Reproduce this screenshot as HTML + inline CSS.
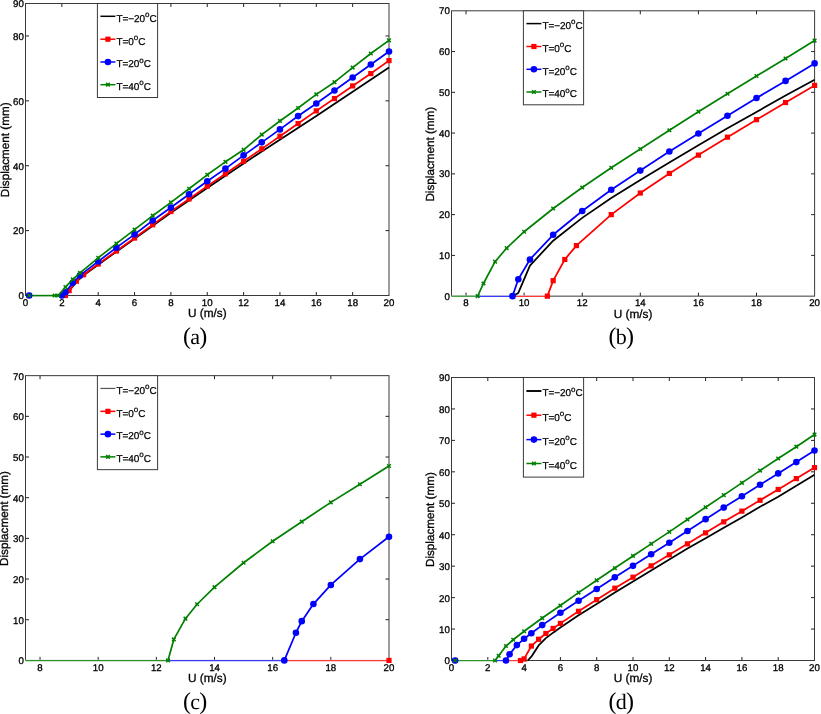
<!DOCTYPE html>
<html><head><meta charset="utf-8"><title>Displacement vs U</title>
<style>
html,body{margin:0;padding:0;background:#fff;}
body{width:821px;height:714px;overflow:hidden;}
svg{display:block;will-change:transform;text-rendering:geometricPrecision;font-family:"Liberation Sans",sans-serif;}
</style></head><body>
<svg width="821" height="714" viewBox="0 0 821 714">
<rect width="821" height="714" fill="#fff"/>
<g id="plot-a">
<rect x="25.5" y="3.5" width="363.5" height="292" fill="#fff" stroke="#3a3a3a" stroke-width="1"/>
<path d="M61.85 295.5v-3.5M61.85 3.5v3.5M98.2 295.5v-3.5M98.2 3.5v3.5M134.55 295.5v-3.5M134.55 3.5v3.5M170.9 295.5v-3.5M170.9 3.5v3.5M207.25 295.5v-3.5M207.25 3.5v3.5M243.6 295.5v-3.5M243.6 3.5v3.5M279.95 295.5v-3.5M279.95 3.5v3.5M316.3 295.5v-3.5M316.3 3.5v3.5M352.65 295.5v-3.5M352.65 3.5v3.5M25.5 230.61h3.5M389 230.61h-3.5M25.5 165.72h3.5M389 165.72h-3.5M25.5 100.83h3.5M389 100.83h-3.5M25.5 35.94h3.5M389 35.94h-3.5" stroke="#222" stroke-width="1" fill="none"/>
<g font-size="9.7" fill="#000" stroke="#000" stroke-width="0.3">
<text x="25.5" y="306.1" text-anchor="middle">0</text>
<text x="61.85" y="306.1" text-anchor="middle">2</text>
<text x="98.2" y="306.1" text-anchor="middle">4</text>
<text x="134.55" y="306.1" text-anchor="middle">6</text>
<text x="170.9" y="306.1" text-anchor="middle">8</text>
<text x="207.25" y="306.1" text-anchor="middle">10</text>
<text x="243.6" y="306.1" text-anchor="middle">12</text>
<text x="279.95" y="306.1" text-anchor="middle">14</text>
<text x="316.3" y="306.1" text-anchor="middle">16</text>
<text x="352.65" y="306.1" text-anchor="middle">18</text>
<text x="389" y="306.1" text-anchor="middle">20</text>
<text x="23.9" y="299.3" text-anchor="end">0</text>
<text x="23.9" y="234.41" text-anchor="end">20</text>
<text x="23.9" y="169.52" text-anchor="end">40</text>
<text x="23.9" y="104.63" text-anchor="end">60</text>
<text x="23.9" y="39.74" text-anchor="end">80</text>
<text x="23.9" y="7.3" text-anchor="end">90</text>
</g>
<text x="207.25" y="317.1" font-size="11.8" stroke="#000" stroke-width="0.3" text-anchor="middle">U (m/s)</text>
<text transform="translate(8.9 149.8) rotate(-90)" font-size="11.7" stroke="#000" stroke-width="0.3" text-anchor="middle">Displacment (mm)</text>
<clipPath id="clip-a"><rect x="25" y="3" width="364.7" height="293"/></clipPath>
<path d="M29.14 295.6H65.49" stroke="#fff" stroke-width="1.7" fill="none"/>
<path d="M29.14 295.6H58.22" stroke="#008000" stroke-width="1.6" fill="none"/>
<path d="M58.22 295.6H61.85" stroke="#0000ff" stroke-width="1.6" fill="none"/>
<path d="M61.85 295.6H65.49" stroke="#ff0000" stroke-width="1.6" fill="none"/>
<path clip-path="url(#clip-a)" d="M65.49 295.5L69.12 290.96L76.39 281.87L83.66 275.38L98.2 264.68L116.38 251.7L134.55 238.88L170.9 212.77L207.25 187.95L261.77 151.45L316.3 116.08L389 67.58" stroke="#000000" stroke-width="1.75" fill="none" stroke-linejoin="round"/>
<path clip-path="url(#clip-a)" d="M65.49 295.5L69.12 290.63L76.39 281.22L83.66 274.74L98.2 264.03L116.38 251.05L134.55 238.07L152.73 224.77L170.9 211.47L189.08 198.98L207.25 186.16L225.43 173.83L243.6 161.18L261.77 148.85L279.95 136.2L298.12 123.54L316.3 110.89L334.48 98.56L352.65 85.91L370.82 73.58L389 60.6" stroke="#ff0000" stroke-width="1.75" fill="none" stroke-linejoin="round"/>
<rect x="26.54" y="292.9" width="5.2" height="5.2" fill="#ff0000"/>
<rect x="62.89" y="292.9" width="5.2" height="5.2" fill="#ff0000"/>
<rect x="66.52" y="288.03" width="5.2" height="5.2" fill="#ff0000"/>
<rect x="73.79" y="278.62" width="5.2" height="5.2" fill="#ff0000"/>
<rect x="81.06" y="272.14" width="5.2" height="5.2" fill="#ff0000"/>
<rect x="95.6" y="261.43" width="5.2" height="5.2" fill="#ff0000"/>
<rect x="113.78" y="248.45" width="5.2" height="5.2" fill="#ff0000"/>
<rect x="131.95" y="235.47" width="5.2" height="5.2" fill="#ff0000"/>
<rect x="150.13" y="222.17" width="5.2" height="5.2" fill="#ff0000"/>
<rect x="168.3" y="208.87" width="5.2" height="5.2" fill="#ff0000"/>
<rect x="186.48" y="196.38" width="5.2" height="5.2" fill="#ff0000"/>
<rect x="204.65" y="183.56" width="5.2" height="5.2" fill="#ff0000"/>
<rect x="222.83" y="171.23" width="5.2" height="5.2" fill="#ff0000"/>
<rect x="241" y="158.58" width="5.2" height="5.2" fill="#ff0000"/>
<rect x="259.17" y="146.25" width="5.2" height="5.2" fill="#ff0000"/>
<rect x="277.35" y="133.6" width="5.2" height="5.2" fill="#ff0000"/>
<rect x="295.52" y="120.94" width="5.2" height="5.2" fill="#ff0000"/>
<rect x="313.7" y="108.29" width="5.2" height="5.2" fill="#ff0000"/>
<rect x="331.88" y="95.96" width="5.2" height="5.2" fill="#ff0000"/>
<rect x="350.05" y="83.31" width="5.2" height="5.2" fill="#ff0000"/>
<rect x="368.22" y="70.98" width="5.2" height="5.2" fill="#ff0000"/>
<rect x="386.4" y="58" width="5.2" height="5.2" fill="#ff0000"/>
<path clip-path="url(#clip-a)" d="M61.85 295.5L65.49 292.26L72.75 282.85L80.03 275.38L98.2 261.43L116.38 247.64L134.55 234.34L152.73 220.55L170.9 207.58L189.08 194.27L207.25 181.3L225.43 168.64L243.6 155.34L261.77 142.36L279.95 129.38L298.12 116.08L316.3 103.43L334.48 90.45L352.65 77.47L370.82 64.5L389 51.52" stroke="#0000ff" stroke-width="1.75" fill="none" stroke-linejoin="round"/>
<circle cx="29.14" cy="295.5" r="3.3" fill="#0000ff"/>
<circle cx="61.85" cy="295.5" r="3.3" fill="#0000ff"/>
<circle cx="65.49" cy="292.26" r="3.3" fill="#0000ff"/>
<circle cx="72.75" cy="282.85" r="3.3" fill="#0000ff"/>
<circle cx="80.03" cy="275.38" r="3.3" fill="#0000ff"/>
<circle cx="98.2" cy="261.43" r="3.3" fill="#0000ff"/>
<circle cx="116.38" cy="247.64" r="3.3" fill="#0000ff"/>
<circle cx="134.55" cy="234.34" r="3.3" fill="#0000ff"/>
<circle cx="152.73" cy="220.55" r="3.3" fill="#0000ff"/>
<circle cx="170.9" cy="207.58" r="3.3" fill="#0000ff"/>
<circle cx="189.08" cy="194.27" r="3.3" fill="#0000ff"/>
<circle cx="207.25" cy="181.3" r="3.3" fill="#0000ff"/>
<circle cx="225.43" cy="168.64" r="3.3" fill="#0000ff"/>
<circle cx="243.6" cy="155.34" r="3.3" fill="#0000ff"/>
<circle cx="261.77" cy="142.36" r="3.3" fill="#0000ff"/>
<circle cx="279.95" cy="129.38" r="3.3" fill="#0000ff"/>
<circle cx="298.12" cy="116.08" r="3.3" fill="#0000ff"/>
<circle cx="316.3" cy="103.43" r="3.3" fill="#0000ff"/>
<circle cx="334.48" cy="90.45" r="3.3" fill="#0000ff"/>
<circle cx="352.65" cy="77.47" r="3.3" fill="#0000ff"/>
<circle cx="370.82" cy="64.5" r="3.3" fill="#0000ff"/>
<circle cx="389" cy="51.52" r="3.3" fill="#0000ff"/>
<path clip-path="url(#clip-a)" d="M58.22 295.5L65.49 287.06L72.75 279.28L80.03 272.79L98.2 257.86L116.38 243.59L134.55 229.64L152.73 215.69L170.9 202.38L189.08 188.76L207.25 174.81L225.43 161.83L243.6 149.82L261.77 134.58L279.95 120.95L298.12 107.97L316.3 94.34L334.48 82.18L352.65 67.58L370.82 53.46L389 40.32" stroke="#008000" stroke-width="1.7" fill="none" stroke-linejoin="round"/>
<path d="M27.34 293.7L30.94 297.3M27.34 297.3L30.94 293.7" stroke="#008000" stroke-width="1.5" fill="none"/>
<path d="M52.78 293.7L56.38 297.3M52.78 297.3L56.38 293.7" stroke="#008000" stroke-width="1.5" fill="none"/>
<path d="M56.42 293.7L60.02 297.3M56.42 297.3L60.02 293.7" stroke="#008000" stroke-width="1.5" fill="none"/>
<path d="M63.69 285.26L67.29 288.86M63.69 288.86L67.29 285.26" stroke="#008000" stroke-width="1.5" fill="none"/>
<path d="M70.95 277.48L74.55 281.08M70.95 281.08L74.55 277.48" stroke="#008000" stroke-width="1.5" fill="none"/>
<path d="M78.23 270.99L81.83 274.59M78.23 274.59L81.83 270.99" stroke="#008000" stroke-width="1.5" fill="none"/>
<path d="M96.4 256.06L100 259.66M96.4 259.66L100 256.06" stroke="#008000" stroke-width="1.5" fill="none"/>
<path d="M114.58 241.79L118.17 245.39M114.58 245.39L118.17 241.79" stroke="#008000" stroke-width="1.5" fill="none"/>
<path d="M132.75 227.84L136.35 231.44M132.75 231.44L136.35 227.84" stroke="#008000" stroke-width="1.5" fill="none"/>
<path d="M150.93 213.89L154.53 217.49M150.93 217.49L154.53 213.89" stroke="#008000" stroke-width="1.5" fill="none"/>
<path d="M169.1 200.58L172.7 204.18M169.1 204.18L172.7 200.58" stroke="#008000" stroke-width="1.5" fill="none"/>
<path d="M187.28 186.96L190.88 190.56M187.28 190.56L190.88 186.96" stroke="#008000" stroke-width="1.5" fill="none"/>
<path d="M205.45 173.01L209.05 176.61M205.45 176.61L209.05 173.01" stroke="#008000" stroke-width="1.5" fill="none"/>
<path d="M223.62 160.03L227.23 163.63M223.62 163.63L227.23 160.03" stroke="#008000" stroke-width="1.5" fill="none"/>
<path d="M241.8 148.02L245.4 151.62M241.8 151.62L245.4 148.02" stroke="#008000" stroke-width="1.5" fill="none"/>
<path d="M259.97 132.78L263.57 136.38M259.97 136.38L263.57 132.78" stroke="#008000" stroke-width="1.5" fill="none"/>
<path d="M278.15 119.15L281.75 122.75M278.15 122.75L281.75 119.15" stroke="#008000" stroke-width="1.5" fill="none"/>
<path d="M296.32 106.17L299.93 109.77M296.32 109.77L299.93 106.17" stroke="#008000" stroke-width="1.5" fill="none"/>
<path d="M314.5 92.54L318.1 96.14M314.5 96.14L318.1 92.54" stroke="#008000" stroke-width="1.5" fill="none"/>
<path d="M332.68 80.38L336.28 83.98M332.68 83.98L336.28 80.38" stroke="#008000" stroke-width="1.5" fill="none"/>
<path d="M350.85 65.78L354.45 69.38M350.85 69.38L354.45 65.78" stroke="#008000" stroke-width="1.5" fill="none"/>
<path d="M369.02 51.66L372.62 55.26M369.02 55.26L372.62 51.66" stroke="#008000" stroke-width="1.5" fill="none"/>
<path d="M387.2 38.52L390.8 42.12M387.2 42.12L390.8 38.52" stroke="#008000" stroke-width="1.5" fill="none"/>
<rect x="97.4" y="3.5" width="60.2" height="94" fill="#fff" stroke="#3a3a3a" stroke-width="1"/>
<path d="M100.4 16.3h15" stroke="#000000" stroke-width="1.5"/>
<text x="116.6" y="21.6" font-size="10" letter-spacing="-0.1" stroke="#000" stroke-width="0.25">T=−20<tspan font-size="8" dy="-4.8">o</tspan><tspan dy="4.8">C</tspan></text>
<path d="M100.4 39.2h15" stroke="#ff0000" stroke-width="1.5"/>
<rect x="105.3" y="36.6" width="5.2" height="5.2" fill="#ff0000"/>
<text x="116.6" y="44.5" font-size="10" letter-spacing="-0.1" stroke="#000" stroke-width="0.25">T=0<tspan font-size="8" dy="-4.8">o</tspan><tspan dy="4.8">C</tspan></text>
<path d="M100.4 62h15" stroke="#0000ff" stroke-width="1.5"/>
<circle cx="107.9" cy="62" r="3.3" fill="#0000ff"/>
<text x="116.6" y="67.3" font-size="10" letter-spacing="-0.1" stroke="#000" stroke-width="0.25">T=20<tspan font-size="8" dy="-4.8">o</tspan><tspan dy="4.8">C</tspan></text>
<path d="M100.4 84.7h15" stroke="#008000" stroke-width="1.5"/>
<path d="M106.1 82.9L109.7 86.5M106.1 86.5L109.7 82.9" stroke="#008000" stroke-width="1.5" fill="none"/>
<text x="116.6" y="90" font-size="10" letter-spacing="-0.1" stroke="#000" stroke-width="0.25">T=40<tspan font-size="8" dy="-4.8">o</tspan><tspan dy="4.8">C</tspan></text>
<text x="194.8" y="344" font-family="'Liberation Serif', serif" font-size="22" letter-spacing="-0.7" text-anchor="middle"><tspan font-size="24">(</tspan>a<tspan font-size="24">)</tspan></text>
</g>
<g id="plot-b">
<rect x="451.5" y="10.8" width="363.1" height="285.35" fill="#fff" stroke="#3a3a3a" stroke-width="1"/>
<path d="M466.02 296.15v-3.5M466.02 10.8v3.5M524.12 296.15v-3.5M524.12 10.8v3.5M582.22 296.15v-3.5M582.22 10.8v3.5M640.31 296.15v-3.5M640.31 10.8v3.5M698.41 296.15v-3.5M698.41 10.8v3.5M756.5 296.15v-3.5M756.5 10.8v3.5M451.5 255.39h3.5M814.6 255.39h-3.5M451.5 214.62h3.5M814.6 214.62h-3.5M451.5 173.86h3.5M814.6 173.86h-3.5M451.5 133.09h3.5M814.6 133.09h-3.5M451.5 92.33h3.5M814.6 92.33h-3.5M451.5 51.56h3.5M814.6 51.56h-3.5" stroke="#222" stroke-width="1" fill="none"/>
<g font-size="9.7" fill="#000" stroke="#000" stroke-width="0.3">
<text x="466.02" y="305.95" text-anchor="middle">8</text>
<text x="524.12" y="305.95" text-anchor="middle">10</text>
<text x="582.22" y="305.95" text-anchor="middle">12</text>
<text x="640.31" y="305.95" text-anchor="middle">14</text>
<text x="698.41" y="305.95" text-anchor="middle">16</text>
<text x="756.5" y="305.95" text-anchor="middle">18</text>
<text x="814.6" y="305.95" text-anchor="middle">20</text>
<text x="449.9" y="299.75" text-anchor="end">0</text>
<text x="449.9" y="258.99" text-anchor="end">10</text>
<text x="449.9" y="218.22" text-anchor="end">20</text>
<text x="449.9" y="177.46" text-anchor="end">30</text>
<text x="449.9" y="136.69" text-anchor="end">40</text>
<text x="449.9" y="95.93" text-anchor="end">50</text>
<text x="449.9" y="55.16" text-anchor="end">60</text>
<text x="449.9" y="14.4" text-anchor="end">70</text>
</g>
<text x="633.05" y="317.75" font-size="11.8" stroke="#000" stroke-width="0.3" text-anchor="middle">U (m/s)</text>
<text transform="translate(434.1 154.17) rotate(-90)" font-size="11.7" stroke="#000" stroke-width="0.3" text-anchor="middle">Displacment (mm)</text>
<clipPath id="clip-b"><rect x="451" y="10.3" width="364.3" height="286.35"/></clipPath>
<path d="M451.5 296.25H547.36" stroke="#fff" stroke-width="1.7" fill="none"/>
<path d="M451.5 296.25H477.64" stroke="#2a962a" stroke-width="1.25" fill="none"/>
<path d="M477.64 296.25H512.5" stroke="#3a3aff" stroke-width="1.25" fill="none"/>
<path d="M512.5 296.25H547.36" stroke="#ff3a3a" stroke-width="1.25" fill="none"/>
<path clip-path="url(#clip-b)" d="M512.5 296.15L518.31 292.89L529.93 265.58L553.17 240.71L582.22 217.88L611.26 197.91L640.31 179.97L669.36 162.44L698.41 145.32L727.46 128.2L756.5 111.9L785.55 95.59L814.6 79.69" stroke="#000000" stroke-width="1.75" fill="none" stroke-linejoin="round"/>
<path clip-path="url(#clip-b)" d="M547.36 296.15L553.17 280.66L564.79 259.46L576.41 245.6L611.26 214.62L640.31 193.02L669.36 173.45L698.41 155.11L727.46 137.17L756.5 119.64L785.55 102.52L814.6 85.4" stroke="#ff0000" stroke-width="1.75" fill="none" stroke-linejoin="round"/>
<rect x="544.76" y="293.55" width="5.2" height="5.2" fill="#ff0000"/>
<rect x="550.57" y="278.06" width="5.2" height="5.2" fill="#ff0000"/>
<rect x="562.19" y="256.86" width="5.2" height="5.2" fill="#ff0000"/>
<rect x="573.81" y="243" width="5.2" height="5.2" fill="#ff0000"/>
<rect x="608.66" y="212.02" width="5.2" height="5.2" fill="#ff0000"/>
<rect x="637.71" y="190.42" width="5.2" height="5.2" fill="#ff0000"/>
<rect x="666.76" y="170.85" width="5.2" height="5.2" fill="#ff0000"/>
<rect x="695.81" y="152.51" width="5.2" height="5.2" fill="#ff0000"/>
<rect x="724.86" y="134.57" width="5.2" height="5.2" fill="#ff0000"/>
<rect x="753.9" y="117.04" width="5.2" height="5.2" fill="#ff0000"/>
<rect x="782.95" y="99.92" width="5.2" height="5.2" fill="#ff0000"/>
<rect x="812" y="82.8" width="5.2" height="5.2" fill="#ff0000"/>
<path clip-path="url(#clip-b)" d="M512.5 296.15L518.31 279.23L529.93 259.46L553.17 234.8L582.22 210.95L611.26 189.76L640.31 170.6L669.36 151.44L698.41 133.5L727.46 115.77L756.5 98.04L785.55 80.91L814.6 63.39" stroke="#0000ff" stroke-width="1.75" fill="none" stroke-linejoin="round"/>
<circle cx="512.5" cy="296.15" r="3.3" fill="#0000ff"/>
<circle cx="518.31" cy="279.23" r="3.3" fill="#0000ff"/>
<circle cx="529.93" cy="259.46" r="3.3" fill="#0000ff"/>
<circle cx="553.17" cy="234.8" r="3.3" fill="#0000ff"/>
<circle cx="582.22" cy="210.95" r="3.3" fill="#0000ff"/>
<circle cx="611.26" cy="189.76" r="3.3" fill="#0000ff"/>
<circle cx="640.31" cy="170.6" r="3.3" fill="#0000ff"/>
<circle cx="669.36" cy="151.44" r="3.3" fill="#0000ff"/>
<circle cx="698.41" cy="133.5" r="3.3" fill="#0000ff"/>
<circle cx="727.46" cy="115.77" r="3.3" fill="#0000ff"/>
<circle cx="756.5" cy="98.04" r="3.3" fill="#0000ff"/>
<circle cx="785.55" cy="80.91" r="3.3" fill="#0000ff"/>
<circle cx="814.6" cy="63.39" r="3.3" fill="#0000ff"/>
<path clip-path="url(#clip-b)" d="M477.64 296.15L483.45 283.51L495.07 261.7L506.69 248.05L524.12 231.74L553.17 208.51L582.22 187.51L611.26 167.74L640.31 148.99L669.36 130.24L698.41 111.69L727.46 93.76L756.5 76.02L785.55 58.49L814.6 40.56" stroke="#008000" stroke-width="1.7" fill="none" stroke-linejoin="round"/>
<path d="M475.84 294.35L479.44 297.95M475.84 297.95L479.44 294.35" stroke="#008000" stroke-width="1.5" fill="none"/>
<path d="M481.65 281.71L485.25 285.31M481.65 285.31L485.25 281.71" stroke="#008000" stroke-width="1.5" fill="none"/>
<path d="M493.27 259.9L496.87 263.5M493.27 263.5L496.87 259.9" stroke="#008000" stroke-width="1.5" fill="none"/>
<path d="M504.89 246.25L508.49 249.85M504.89 249.85L508.49 246.25" stroke="#008000" stroke-width="1.5" fill="none"/>
<path d="M522.32 229.94L525.92 233.54M522.32 233.54L525.92 229.94" stroke="#008000" stroke-width="1.5" fill="none"/>
<path d="M551.37 206.71L554.97 210.31M551.37 210.31L554.97 206.71" stroke="#008000" stroke-width="1.5" fill="none"/>
<path d="M580.42 185.71L584.02 189.31M580.42 189.31L584.02 185.71" stroke="#008000" stroke-width="1.5" fill="none"/>
<path d="M609.46 165.94L613.06 169.54M609.46 169.54L613.06 165.94" stroke="#008000" stroke-width="1.5" fill="none"/>
<path d="M638.51 147.19L642.11 150.79M638.51 150.79L642.11 147.19" stroke="#008000" stroke-width="1.5" fill="none"/>
<path d="M667.56 128.44L671.16 132.04M667.56 132.04L671.16 128.44" stroke="#008000" stroke-width="1.5" fill="none"/>
<path d="M696.61 109.89L700.21 113.49M696.61 113.49L700.21 109.89" stroke="#008000" stroke-width="1.5" fill="none"/>
<path d="M725.66 91.96L729.26 95.56M725.66 95.56L729.26 91.96" stroke="#008000" stroke-width="1.5" fill="none"/>
<path d="M754.7 74.22L758.3 77.82M754.7 77.82L758.3 74.22" stroke="#008000" stroke-width="1.5" fill="none"/>
<path d="M783.75 56.69L787.35 60.29M783.75 60.29L787.35 56.69" stroke="#008000" stroke-width="1.5" fill="none"/>
<path d="M812.8 38.76L816.4 42.36M812.8 42.36L816.4 38.76" stroke="#008000" stroke-width="1.5" fill="none"/>
<rect x="523.4" y="10.8" width="60.2" height="94" fill="#fff" stroke="#3a3a3a" stroke-width="1"/>
<path d="M526.4 23.6h15" stroke="#000000" stroke-width="1.5"/>
<text x="542.6" y="28.9" font-size="10" letter-spacing="-0.1" stroke="#000" stroke-width="0.25">T=−20<tspan font-size="8" dy="-4.8">o</tspan><tspan dy="4.8">C</tspan></text>
<path d="M526.4 46.5h15" stroke="#ff0000" stroke-width="1.5"/>
<rect x="531.3" y="43.9" width="5.2" height="5.2" fill="#ff0000"/>
<text x="542.6" y="51.8" font-size="10" letter-spacing="-0.1" stroke="#000" stroke-width="0.25">T=0<tspan font-size="8" dy="-4.8">o</tspan><tspan dy="4.8">C</tspan></text>
<path d="M526.4 69.3h15" stroke="#0000ff" stroke-width="1.5"/>
<circle cx="533.9" cy="69.3" r="3.3" fill="#0000ff"/>
<text x="542.6" y="74.6" font-size="10" letter-spacing="-0.1" stroke="#000" stroke-width="0.25">T=20<tspan font-size="8" dy="-4.8">o</tspan><tspan dy="4.8">C</tspan></text>
<path d="M526.4 92h15" stroke="#008000" stroke-width="1.5"/>
<path d="M532.1 90.2L535.7 93.8M532.1 93.8L535.7 90.2" stroke="#008000" stroke-width="1.5" fill="none"/>
<text x="542.6" y="97.3" font-size="10" letter-spacing="-0.1" stroke="#000" stroke-width="0.25">T=40<tspan font-size="8" dy="-4.8">o</tspan><tspan dy="4.8">C</tspan></text>
<text x="620.9" y="343.8" font-family="'Liberation Serif', serif" font-size="22" letter-spacing="-0.7" text-anchor="middle"><tspan font-size="24">(</tspan>b<tspan font-size="24">)</tspan></text>
</g>
<g id="plot-c">
<rect x="25.5" y="375.65" width="363.5" height="284.75" fill="#fff" stroke="#3a3a3a" stroke-width="1"/>
<path d="M40.04 660.4v-3.5M40.04 375.65v3.5M98.2 660.4v-3.5M98.2 375.65v3.5M156.36 660.4v-3.5M156.36 375.65v3.5M214.52 660.4v-3.5M214.52 375.65v3.5M272.68 660.4v-3.5M272.68 375.65v3.5M330.84 660.4v-3.5M330.84 375.65v3.5M25.5 619.72h3.5M389 619.72h-3.5M25.5 579.04h3.5M389 579.04h-3.5M25.5 538.36h3.5M389 538.36h-3.5M25.5 497.69h3.5M389 497.69h-3.5M25.5 457.01h3.5M389 457.01h-3.5M25.5 416.33h3.5M389 416.33h-3.5" stroke="#222" stroke-width="1" fill="none"/>
<g font-size="9.7" fill="#000" stroke="#000" stroke-width="0.3">
<text x="40.04" y="671" text-anchor="middle">8</text>
<text x="98.2" y="671" text-anchor="middle">10</text>
<text x="156.36" y="671" text-anchor="middle">12</text>
<text x="214.52" y="671" text-anchor="middle">14</text>
<text x="272.68" y="671" text-anchor="middle">16</text>
<text x="330.84" y="671" text-anchor="middle">18</text>
<text x="389" y="671" text-anchor="middle">20</text>
<text x="23.9" y="664.25" text-anchor="end">0</text>
<text x="23.9" y="623.57" text-anchor="end">10</text>
<text x="23.9" y="582.89" text-anchor="end">20</text>
<text x="23.9" y="542.21" text-anchor="end">30</text>
<text x="23.9" y="501.54" text-anchor="end">40</text>
<text x="23.9" y="460.86" text-anchor="end">50</text>
<text x="23.9" y="420.18" text-anchor="end">60</text>
<text x="23.9" y="379.5" text-anchor="end">70</text>
</g>
<text x="207.25" y="682" font-size="11.8" stroke="#000" stroke-width="0.3" text-anchor="middle">U (m/s)</text>
<text transform="translate(8.3 518.52) rotate(-90)" font-size="11.7" stroke="#000" stroke-width="0.3" text-anchor="middle">Displacment (mm)</text>
<clipPath id="clip-c"><rect x="25" y="375.15" width="364.7" height="285.75"/></clipPath>
<path d="M25.5 660.5H389" stroke="#fff" stroke-width="1.7" fill="none"/>
<path d="M25.5 660.5H167.99" stroke="#2a962a" stroke-width="1.25" fill="none"/>
<path d="M167.99 660.5H284.31" stroke="#3a3aff" stroke-width="1.25" fill="none"/>
<path d="M284.31 660.5H389" stroke="#ff3a3a" stroke-width="1.25" fill="none"/>
<rect x="386.4" y="657.8" width="5.2" height="5.2" fill="#ff0000"/>
<path clip-path="url(#clip-c)" d="M284.31 660.4L295.94 632.74L301.76 621.15L313.39 604.06L330.84 584.94L359.92 559.11L389 536.74" stroke="#0000ff" stroke-width="1.75" fill="none" stroke-linejoin="round"/>
<circle cx="284.31" cy="660.4" r="3.3" fill="#0000ff"/>
<circle cx="295.94" cy="632.74" r="3.3" fill="#0000ff"/>
<circle cx="301.76" cy="621.15" r="3.3" fill="#0000ff"/>
<circle cx="313.39" cy="604.06" r="3.3" fill="#0000ff"/>
<circle cx="330.84" cy="584.94" r="3.3" fill="#0000ff"/>
<circle cx="359.92" cy="559.11" r="3.3" fill="#0000ff"/>
<circle cx="389" cy="536.74" r="3.3" fill="#0000ff"/>
<path clip-path="url(#clip-c)" d="M167.99 660.4L173.81 639.41L185.44 618.7L197.07 604.26L214.52 587.18L243.6 562.77L272.68 541.21L301.76 521.69L330.84 502.36L359.92 484.26L389 465.96" stroke="#008000" stroke-width="1.7" fill="none" stroke-linejoin="round"/>
<path d="M166.19 658.6L169.79 662.2M166.19 662.2L169.79 658.6" stroke="#008000" stroke-width="1.5" fill="none"/>
<path d="M172.01 637.61L175.61 641.21M172.01 641.21L175.61 637.61" stroke="#008000" stroke-width="1.5" fill="none"/>
<path d="M183.64 616.9L187.24 620.5M183.64 620.5L187.24 616.9" stroke="#008000" stroke-width="1.5" fill="none"/>
<path d="M195.27 602.46L198.87 606.06M195.27 606.06L198.87 602.46" stroke="#008000" stroke-width="1.5" fill="none"/>
<path d="M212.72 585.38L216.32 588.98M212.72 588.98L216.32 585.38" stroke="#008000" stroke-width="1.5" fill="none"/>
<path d="M241.8 560.97L245.4 564.57M241.8 564.57L245.4 560.97" stroke="#008000" stroke-width="1.5" fill="none"/>
<path d="M270.88 539.41L274.48 543.01M270.88 543.01L274.48 539.41" stroke="#008000" stroke-width="1.5" fill="none"/>
<path d="M299.96 519.89L303.56 523.49M299.96 523.49L303.56 519.89" stroke="#008000" stroke-width="1.5" fill="none"/>
<path d="M329.04 500.56L332.64 504.16M329.04 504.16L332.64 500.56" stroke="#008000" stroke-width="1.5" fill="none"/>
<path d="M358.12 482.46L361.72 486.06M358.12 486.06L361.72 482.46" stroke="#008000" stroke-width="1.5" fill="none"/>
<path d="M387.2 464.16L390.8 467.76M387.2 467.76L390.8 464.16" stroke="#008000" stroke-width="1.5" fill="none"/>
<rect x="97.4" y="375.65" width="60.2" height="94" fill="#fff" stroke="#3a3a3a" stroke-width="1"/>
<path d="M100.4 388.45h15" stroke="#555" stroke-width="1.2"/>
<text x="116.6" y="393.75" font-size="10" letter-spacing="-0.1" stroke="#000" stroke-width="0.25">T=−20<tspan font-size="8" dy="-4.8">o</tspan><tspan dy="4.8">C</tspan></text>
<path d="M100.4 411.35h15" stroke="#ff0000" stroke-width="1.5"/>
<rect x="105.3" y="408.75" width="5.2" height="5.2" fill="#ff0000"/>
<text x="116.6" y="416.65" font-size="10" letter-spacing="-0.1" stroke="#000" stroke-width="0.25">T=0<tspan font-size="8" dy="-4.8">o</tspan><tspan dy="4.8">C</tspan></text>
<path d="M100.4 434.15h15" stroke="#0000ff" stroke-width="1.5"/>
<circle cx="107.9" cy="434.15" r="3.3" fill="#0000ff"/>
<text x="116.6" y="439.45" font-size="10" letter-spacing="-0.1" stroke="#000" stroke-width="0.25">T=20<tspan font-size="8" dy="-4.8">o</tspan><tspan dy="4.8">C</tspan></text>
<path d="M100.4 456.85h15" stroke="#008000" stroke-width="1.5"/>
<path d="M106.1 455.05L109.7 458.65M106.1 458.65L109.7 455.05" stroke="#008000" stroke-width="1.5" fill="none"/>
<text x="116.6" y="462.15" font-size="10" letter-spacing="-0.1" stroke="#000" stroke-width="0.25">T=40<tspan font-size="8" dy="-4.8">o</tspan><tspan dy="4.8">C</tspan></text>
<text x="194.8" y="708.7" font-family="'Liberation Serif', serif" font-size="22" letter-spacing="-0.7" text-anchor="middle"><tspan font-size="24">(</tspan>c<tspan font-size="24">)</tspan></text>
</g>
<g id="plot-d">
<rect x="451.5" y="377.5" width="363" height="283" fill="#fff" stroke="#3a3a3a" stroke-width="1"/>
<path d="M487.8 660.5v-3.5M487.8 377.5v3.5M524.1 660.5v-3.5M524.1 377.5v3.5M560.4 660.5v-3.5M560.4 377.5v3.5M596.7 660.5v-3.5M596.7 377.5v3.5M633 660.5v-3.5M633 377.5v3.5M669.3 660.5v-3.5M669.3 377.5v3.5M705.6 660.5v-3.5M705.6 377.5v3.5M741.9 660.5v-3.5M741.9 377.5v3.5M778.2 660.5v-3.5M778.2 377.5v3.5M451.5 629.06h3.5M814.5 629.06h-3.5M451.5 597.61h3.5M814.5 597.61h-3.5M451.5 566.17h3.5M814.5 566.17h-3.5M451.5 534.72h3.5M814.5 534.72h-3.5M451.5 503.28h3.5M814.5 503.28h-3.5M451.5 471.83h3.5M814.5 471.83h-3.5M451.5 440.39h3.5M814.5 440.39h-3.5M451.5 408.94h3.5M814.5 408.94h-3.5" stroke="#222" stroke-width="1" fill="none"/>
<g font-size="9.7" fill="#000" stroke="#000" stroke-width="0.3">
<text x="451.5" y="671.1" text-anchor="middle">0</text>
<text x="487.8" y="671.1" text-anchor="middle">2</text>
<text x="524.1" y="671.1" text-anchor="middle">4</text>
<text x="560.4" y="671.1" text-anchor="middle">6</text>
<text x="596.7" y="671.1" text-anchor="middle">8</text>
<text x="633" y="671.1" text-anchor="middle">10</text>
<text x="669.3" y="671.1" text-anchor="middle">12</text>
<text x="705.6" y="671.1" text-anchor="middle">14</text>
<text x="741.9" y="671.1" text-anchor="middle">16</text>
<text x="778.2" y="671.1" text-anchor="middle">18</text>
<text x="814.5" y="671.1" text-anchor="middle">20</text>
<text x="449.9" y="664.4" text-anchor="end">0</text>
<text x="449.9" y="632.96" text-anchor="end">10</text>
<text x="449.9" y="601.51" text-anchor="end">20</text>
<text x="449.9" y="570.07" text-anchor="end">30</text>
<text x="449.9" y="538.62" text-anchor="end">40</text>
<text x="449.9" y="507.18" text-anchor="end">50</text>
<text x="449.9" y="475.73" text-anchor="end">60</text>
<text x="449.9" y="444.29" text-anchor="end">70</text>
<text x="449.9" y="412.84" text-anchor="end">80</text>
<text x="449.9" y="381.4" text-anchor="end">90</text>
</g>
<text x="633" y="682.1" font-size="11.8" stroke="#000" stroke-width="0.3" text-anchor="middle">U (m/s)</text>
<text transform="translate(434.1 519.6) rotate(-90)" font-size="11.7" stroke="#000" stroke-width="0.3" text-anchor="middle">Displacment (mm)</text>
<clipPath id="clip-d"><rect x="451" y="377" width="364.2" height="284"/></clipPath>
<path d="M455.13 660.6H527.73" stroke="#fff" stroke-width="1.7" fill="none"/>
<path d="M455.13 660.6H495.06" stroke="#2a962a" stroke-width="1.25" fill="none"/>
<path d="M495.06 660.6H505.95" stroke="#3a3aff" stroke-width="1.25" fill="none"/>
<path d="M505.95 660.6H520.47" stroke="#ff3a3a" stroke-width="1.25" fill="none"/>
<path d="M520.47 660.6H527.73" stroke="#333333" stroke-width="1.25" fill="none"/>
<path clip-path="url(#clip-d)" d="M527.73 660.5L531.36 656.73L538.62 645.41L545.88 638.17L553.14 632.67L560.4 627.48L578.55 615.22L596.7 603.9L614.85 592.58L633 581.57L651.15 570.57L669.3 559.56L687.45 548.56L705.6 538.18L723.75 527.8L741.9 517.43L760.05 506.74L778.2 496.67L796.35 485.67L814.5 474.82" stroke="#000000" stroke-width="1.75" fill="none" stroke-linejoin="round"/>
<path clip-path="url(#clip-d)" d="M520.47 660.5L524.1 658.93L531.36 646.04L538.62 639.27L545.88 633.46L553.14 628.43L560.4 623.4L578.55 611.29L596.7 599.65L614.85 588.18L633 577.17L651.15 565.85L669.3 554.85L687.45 543.84L705.6 532.84L723.75 521.83L741.9 511.14L760.05 500.29L778.2 489.44L796.35 478.59L814.5 467.59" stroke="#ff0000" stroke-width="1.75" fill="none" stroke-linejoin="round"/>
<rect x="452.53" y="657.9" width="5.2" height="5.2" fill="#ff0000"/>
<rect x="517.87" y="657.9" width="5.2" height="5.2" fill="#ff0000"/>
<rect x="521.5" y="656.33" width="5.2" height="5.2" fill="#ff0000"/>
<rect x="528.76" y="643.44" width="5.2" height="5.2" fill="#ff0000"/>
<rect x="536.02" y="636.67" width="5.2" height="5.2" fill="#ff0000"/>
<rect x="543.28" y="630.86" width="5.2" height="5.2" fill="#ff0000"/>
<rect x="550.54" y="625.83" width="5.2" height="5.2" fill="#ff0000"/>
<rect x="557.8" y="620.8" width="5.2" height="5.2" fill="#ff0000"/>
<rect x="575.95" y="608.69" width="5.2" height="5.2" fill="#ff0000"/>
<rect x="594.1" y="597.05" width="5.2" height="5.2" fill="#ff0000"/>
<rect x="612.25" y="585.58" width="5.2" height="5.2" fill="#ff0000"/>
<rect x="630.4" y="574.57" width="5.2" height="5.2" fill="#ff0000"/>
<rect x="648.55" y="563.25" width="5.2" height="5.2" fill="#ff0000"/>
<rect x="666.7" y="552.25" width="5.2" height="5.2" fill="#ff0000"/>
<rect x="684.85" y="541.24" width="5.2" height="5.2" fill="#ff0000"/>
<rect x="703" y="530.24" width="5.2" height="5.2" fill="#ff0000"/>
<rect x="721.15" y="519.23" width="5.2" height="5.2" fill="#ff0000"/>
<rect x="739.3" y="508.54" width="5.2" height="5.2" fill="#ff0000"/>
<rect x="757.45" y="497.69" width="5.2" height="5.2" fill="#ff0000"/>
<rect x="775.6" y="486.84" width="5.2" height="5.2" fill="#ff0000"/>
<rect x="793.75" y="475.99" width="5.2" height="5.2" fill="#ff0000"/>
<rect x="811.9" y="464.99" width="5.2" height="5.2" fill="#ff0000"/>
<path clip-path="url(#clip-d)" d="M505.95 660.5L509.58 654.21L516.84 645.09L524.1 638.8L531.36 633.3L542.25 625.12L560.4 612.7L578.55 600.76L596.7 588.96L614.85 577.33L633 565.85L651.15 554.22L669.3 542.74L687.45 530.95L705.6 519.16L723.75 507.52L741.9 496.2L760.05 484.73L778.2 473.41L796.35 462.09L814.5 450.45" stroke="#0000ff" stroke-width="1.75" fill="none" stroke-linejoin="round"/>
<circle cx="455.13" cy="660.5" r="3.3" fill="#0000ff"/>
<circle cx="505.95" cy="660.5" r="3.3" fill="#0000ff"/>
<circle cx="509.58" cy="654.21" r="3.3" fill="#0000ff"/>
<circle cx="516.84" cy="645.09" r="3.3" fill="#0000ff"/>
<circle cx="524.1" cy="638.8" r="3.3" fill="#0000ff"/>
<circle cx="531.36" cy="633.3" r="3.3" fill="#0000ff"/>
<circle cx="542.25" cy="625.12" r="3.3" fill="#0000ff"/>
<circle cx="560.4" cy="612.7" r="3.3" fill="#0000ff"/>
<circle cx="578.55" cy="600.76" r="3.3" fill="#0000ff"/>
<circle cx="596.7" cy="588.96" r="3.3" fill="#0000ff"/>
<circle cx="614.85" cy="577.33" r="3.3" fill="#0000ff"/>
<circle cx="633" cy="565.85" r="3.3" fill="#0000ff"/>
<circle cx="651.15" cy="554.22" r="3.3" fill="#0000ff"/>
<circle cx="669.3" cy="542.74" r="3.3" fill="#0000ff"/>
<circle cx="687.45" cy="530.95" r="3.3" fill="#0000ff"/>
<circle cx="705.6" cy="519.16" r="3.3" fill="#0000ff"/>
<circle cx="723.75" cy="507.52" r="3.3" fill="#0000ff"/>
<circle cx="741.9" cy="496.2" r="3.3" fill="#0000ff"/>
<circle cx="760.05" cy="484.73" r="3.3" fill="#0000ff"/>
<circle cx="778.2" cy="473.41" r="3.3" fill="#0000ff"/>
<circle cx="796.35" cy="462.09" r="3.3" fill="#0000ff"/>
<circle cx="814.5" cy="450.45" r="3.3" fill="#0000ff"/>
<path clip-path="url(#clip-d)" d="M495.06 660.5L498.69 655.78L505.95 646.04L513.21 639.75L524.1 631.26L542.25 618.05L560.4 605.47L578.55 592.58L596.7 580.32L614.85 568.05L633 555.95L651.15 543.84L669.3 531.89L687.45 519.47L705.6 507.21L723.75 495.1L741.9 482.84L760.05 470.58L778.2 458.47L796.35 446.68L814.5 434.57" stroke="#008000" stroke-width="1.7" fill="none" stroke-linejoin="round"/>
<path d="M453.33 658.7L456.93 662.3M453.33 662.3L456.93 658.7" stroke="#008000" stroke-width="1.5" fill="none"/>
<path d="M493.26 658.7L496.86 662.3M493.26 662.3L496.86 658.7" stroke="#008000" stroke-width="1.5" fill="none"/>
<path d="M496.89 653.98L500.49 657.58M496.89 657.58L500.49 653.98" stroke="#008000" stroke-width="1.5" fill="none"/>
<path d="M504.15 644.24L507.75 647.84M504.15 647.84L507.75 644.24" stroke="#008000" stroke-width="1.5" fill="none"/>
<path d="M511.41 637.95L515.01 641.55M511.41 641.55L515.01 637.95" stroke="#008000" stroke-width="1.5" fill="none"/>
<path d="M522.3 629.46L525.9 633.06M522.3 633.06L525.9 629.46" stroke="#008000" stroke-width="1.5" fill="none"/>
<path d="M540.45 616.25L544.05 619.85M540.45 619.85L544.05 616.25" stroke="#008000" stroke-width="1.5" fill="none"/>
<path d="M558.6 603.67L562.2 607.27M558.6 607.27L562.2 603.67" stroke="#008000" stroke-width="1.5" fill="none"/>
<path d="M576.75 590.78L580.35 594.38M576.75 594.38L580.35 590.78" stroke="#008000" stroke-width="1.5" fill="none"/>
<path d="M594.9 578.52L598.5 582.12M594.9 582.12L598.5 578.52" stroke="#008000" stroke-width="1.5" fill="none"/>
<path d="M613.05 566.25L616.65 569.85M613.05 569.85L616.65 566.25" stroke="#008000" stroke-width="1.5" fill="none"/>
<path d="M631.2 554.15L634.8 557.75M631.2 557.75L634.8 554.15" stroke="#008000" stroke-width="1.5" fill="none"/>
<path d="M649.35 542.04L652.95 545.64M649.35 545.64L652.95 542.04" stroke="#008000" stroke-width="1.5" fill="none"/>
<path d="M667.5 530.09L671.1 533.69M667.5 533.69L671.1 530.09" stroke="#008000" stroke-width="1.5" fill="none"/>
<path d="M685.65 517.67L689.25 521.27M685.65 521.27L689.25 517.67" stroke="#008000" stroke-width="1.5" fill="none"/>
<path d="M703.8 505.41L707.4 509.01M703.8 509.01L707.4 505.41" stroke="#008000" stroke-width="1.5" fill="none"/>
<path d="M721.95 493.3L725.55 496.9M721.95 496.9L725.55 493.3" stroke="#008000" stroke-width="1.5" fill="none"/>
<path d="M740.1 481.04L743.7 484.64M740.1 484.64L743.7 481.04" stroke="#008000" stroke-width="1.5" fill="none"/>
<path d="M758.25 468.78L761.85 472.38M758.25 472.38L761.85 468.78" stroke="#008000" stroke-width="1.5" fill="none"/>
<path d="M776.4 456.67L780 460.27M776.4 460.27L780 456.67" stroke="#008000" stroke-width="1.5" fill="none"/>
<path d="M794.55 444.88L798.15 448.48M794.55 448.48L798.15 444.88" stroke="#008000" stroke-width="1.5" fill="none"/>
<path d="M812.7 432.77L816.3 436.37M812.7 436.37L816.3 432.77" stroke="#008000" stroke-width="1.5" fill="none"/>
<rect x="523.4" y="377.5" width="60.2" height="99.6" fill="#fff" stroke="#3a3a3a" stroke-width="1"/>
<path d="M526.4 391h15" stroke="#000000" stroke-width="1.9"/>
<text x="542.6" y="396.4" font-size="10" letter-spacing="-0.1" stroke="#000" stroke-width="0.25">T=−20<tspan font-size="8" dy="-4.8">o</tspan><tspan dy="4.8">C</tspan></text>
<path d="M526.4 415.2h15" stroke="#ff0000" stroke-width="1.5"/>
<rect x="531.3" y="412.6" width="5.2" height="5.2" fill="#ff0000"/>
<text x="542.6" y="420.6" font-size="10" letter-spacing="-0.1" stroke="#000" stroke-width="0.25">T=0<tspan font-size="8" dy="-4.8">o</tspan><tspan dy="4.8">C</tspan></text>
<path d="M526.4 439.6h15" stroke="#0000ff" stroke-width="1.5"/>
<circle cx="533.9" cy="439.6" r="3.3" fill="#0000ff"/>
<text x="542.6" y="445" font-size="10" letter-spacing="-0.1" stroke="#000" stroke-width="0.25">T=20<tspan font-size="8" dy="-4.8">o</tspan><tspan dy="4.8">C</tspan></text>
<path d="M526.4 463.5h15" stroke="#008000" stroke-width="1.5"/>
<path d="M532.1 461.7L535.7 465.3M532.1 465.3L535.7 461.7" stroke="#008000" stroke-width="1.5" fill="none"/>
<text x="542.6" y="468.9" font-size="10" letter-spacing="-0.1" stroke="#000" stroke-width="0.25">T=40<tspan font-size="8" dy="-4.8">o</tspan><tspan dy="4.8">C</tspan></text>
<text x="620.9" y="708.7" font-family="'Liberation Serif', serif" font-size="22" letter-spacing="-0.7" text-anchor="middle"><tspan font-size="24">(</tspan>d<tspan font-size="24">)</tspan></text>
</g>
</svg>
</body></html>
